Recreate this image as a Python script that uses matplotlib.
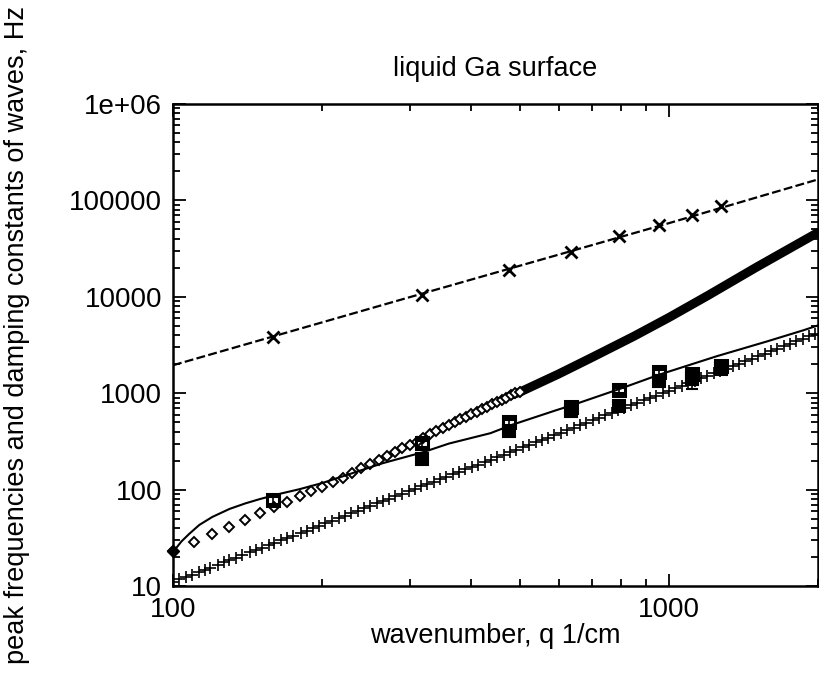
import matplotlib
matplotlib.use("Agg")
import matplotlib.pyplot as plt
from matplotlib.ticker import LogLocator, NullFormatter

plt.rcParams['font.family'] = ['Liberation Sans', 'DejaVu Sans']

# dashed theory line (capillary frequency) and its x markers
q_cap = [100, 300, 1000, 2000]
f_cap = [1950, 9900, 58000, 165000]
q_cap_pts = [159, 318, 477, 636, 795, 954, 1113, 1272]
f_cap_pts = [3800, 10400, 18800, 28900, 42400, 55100, 69900, 86700]

# open diamonds (peak frequency), q step 10 up to 500
q_dia = [100, 110, 120, 130, 140, 150, 160, 170, 180, 190, 200, 210, 220, 230,
         240, 250, 260, 270, 280, 290, 300, 310, 320, 330, 340, 350, 360, 370,
         380, 390, 400, 410, 420, 430, 440, 450, 460, 470, 480, 490, 500]
f_dia = [23, 28.6, 34.6, 40.9, 48.3, 57.1, 65.9, 74.2, 85.6, 96.5, 106, 120, 133, 150,
         168, 184, 202, 222, 245, 269, 289, 310, 342, 376, 404, 434, 466, 501,
         538, 564, 605, 635, 682, 716, 769, 807, 846, 887, 953, 1000, 1023]
# same series where the diamonds merge into a thick band
q_band = [480, 500, 600, 700, 850, 1000, 1200, 1500, 2000]
f_band = [953, 1023, 1585, 2349, 3890, 6085, 10330, 20170, 46500]

# solid theory line
q_solid = [100, 104, 108, 113, 120, 130, 140, 150, 165, 180, 200, 230, 265, 320,
           360, 437, 483, 595, 643, 801, 954, 1250, 1580, 1870, 2000]
f_solid = [22.5, 29, 35, 43, 52, 63, 72, 80, 91, 101, 117, 148, 188, 245,
           300, 385, 470, 670, 760, 1120, 1550, 2420, 3450, 4500, 5050]

# '+' series (viscous damping)
q_plus = [100, 103, 106, 109, 113, 116, 119, 123, 127, 130, 134, 138, 143, 147, 151,
          156, 160, 165, 170, 175, 181, 186, 192, 197, 203, 209, 216, 222, 229, 236,
          243, 250, 258, 265, 273, 281, 290, 299, 307, 317, 326, 336, 346, 356, 367,
          378, 389, 401, 413, 425, 438, 451, 465, 479, 493, 508, 523, 539, 555, 571,
          588, 606, 624, 643, 662, 682, 703, 724, 745, 768, 791, 814, 839, 864, 890,
          917, 944, 972, 1001, 1031, 1062, 1094, 1127, 1161, 1196, 1231, 1268, 1306,
          1346, 1386, 1428, 1470, 1514, 1560, 1607, 1655, 1704, 1755, 1808, 1862,
          1918, 1976]
f_plus = [11.0, 11.7, 12.3, 13.0, 14.0, 14.8, 15.5, 16.6, 17.7, 18.5, 19.6, 20.8, 22.3,
          23.6, 24.9, 26.5, 27.9, 29.7, 31.5, 33.3, 35.6, 37.6, 40.0, 42.1, 44.7, 47.3,
          50.5, 53.4, 56.7, 60.2, 63.8, 67.5, 71.8, 75.7, 80.3, 85.1, 90.5, 96.2, 101,
          108, 114, 121, 128, 136, 144, 153, 162, 172, 182, 193, 205, 217, 231, 245,
          259, 275, 291, 309, 328, 347, 368, 391, 414, 440, 466, 494, 525, 557, 589,
          626, 664, 703, 747, 792, 840, 891, 944, 1001, 1061, 1125, 1194, 1266, 1344,
          1426, 1512, 1602, 1700, 1802, 1914, 2029, 2153, 2281, 2419, 2568, 2724, 2889,
          3062, 3248, 3446, 3654, 3876, 4112]

# measured points with error bars
q_meas1 = [159, 318, 477, 636, 795, 954, 1113, 1272]
f_meas1 = [78, 302, 500, 720, 1075, 1650, 1600, 1900]
e_meas1 = [7, 25, 40, 55, 80, 120, 130, 110]
q_meas2 = [318, 477, 636, 795, 954, 1113, 1272]
f_meas2 = [207, 410, 650, 733, 1350, 1400, 1800]
e_meas2 = [18, 35, 50, 55, 100, 300, 100]

fig = plt.figure(figsize=(8.2, 6.9), dpi=100)
ax = fig.add_axes([173 / 820, 104 / 690, 645 / 820, 482 / 690])

ax.plot(q_cap, f_cap, color='black', lw=1.6, dashes=(4, 1.5))
ax.plot(q_cap_pts, f_cap_pts, ls='none', marker='x', color='black', ms=8, mew=2)

ax.plot(q_band, f_band, color='black', lw=6.5, solid_capstyle='round')
ax.plot(q_dia, f_dia, ls='none', marker='D', ms=5, mfc='white', mec='black', mew=1.4,
        clip_on=False)
ax.plot(q_dia[:1], f_dia[:1], ls='none', marker='D', ms=6, color='black', clip_on=False)

ax.plot(q_solid, f_solid, color='black', lw=1.5)
ax.plot(q_plus, f_plus, ls='none', marker='+', color='black', ms=8, mew=1.2)

ax.errorbar(q_meas1, f_meas1, yerr=e_meas1, fmt='s', ms=8, mfc='none', mec='black',
            mew=2.2, ecolor='black', elinewidth=1.2, capsize=4, capthick=1.2)
ax.errorbar(q_meas2, f_meas2, yerr=e_meas2, fmt='s', ms=8, mfc='black', mec='black',
            mew=1.5, ecolor='black', elinewidth=1.2, capsize=4, capthick=1.2)

ax.set_xscale('log')
ax.set_yscale('log')
ax.set_xlim(100, 2000)
ax.set_ylim(10, 1e6)

ax.set_xticks([100, 1000], ['100', '1000'])
ax.set_yticks([10, 100, 1000, 1e4, 1e5, 1e6],
              ['10', '100', '1000', '10000', '100000', '1e+06'])
ax.xaxis.set_minor_locator(LogLocator(base=10, subs=range(2, 10)))
ax.yaxis.set_minor_locator(LogLocator(base=10, subs=range(2, 10)))
ax.xaxis.set_minor_formatter(NullFormatter())
ax.yaxis.set_minor_formatter(NullFormatter())
ax.tick_params(which='both', direction='in', top=True, right=True, labelsize=20,
               width=1.3, colors='black')
ax.tick_params(which='major', length=9, pad=8)
ax.tick_params(which='minor', length=5)
for s in ax.spines.values():
    s.set_linewidth(1.8)

ax.set_title('liquid Ga surface', fontsize=19.5, pad=20)
ax.set_xlabel('wavenumber, q 1/cm', fontsize=19.5, labelpad=0)
fig.text(17 / 820, 1 - 335 / 690, 'peak frequencies and damping constants of waves, Hz',
         rotation=90, ha='center', va='center', fontsize=19.5)

fig.savefig('out.png', dpi=100)
